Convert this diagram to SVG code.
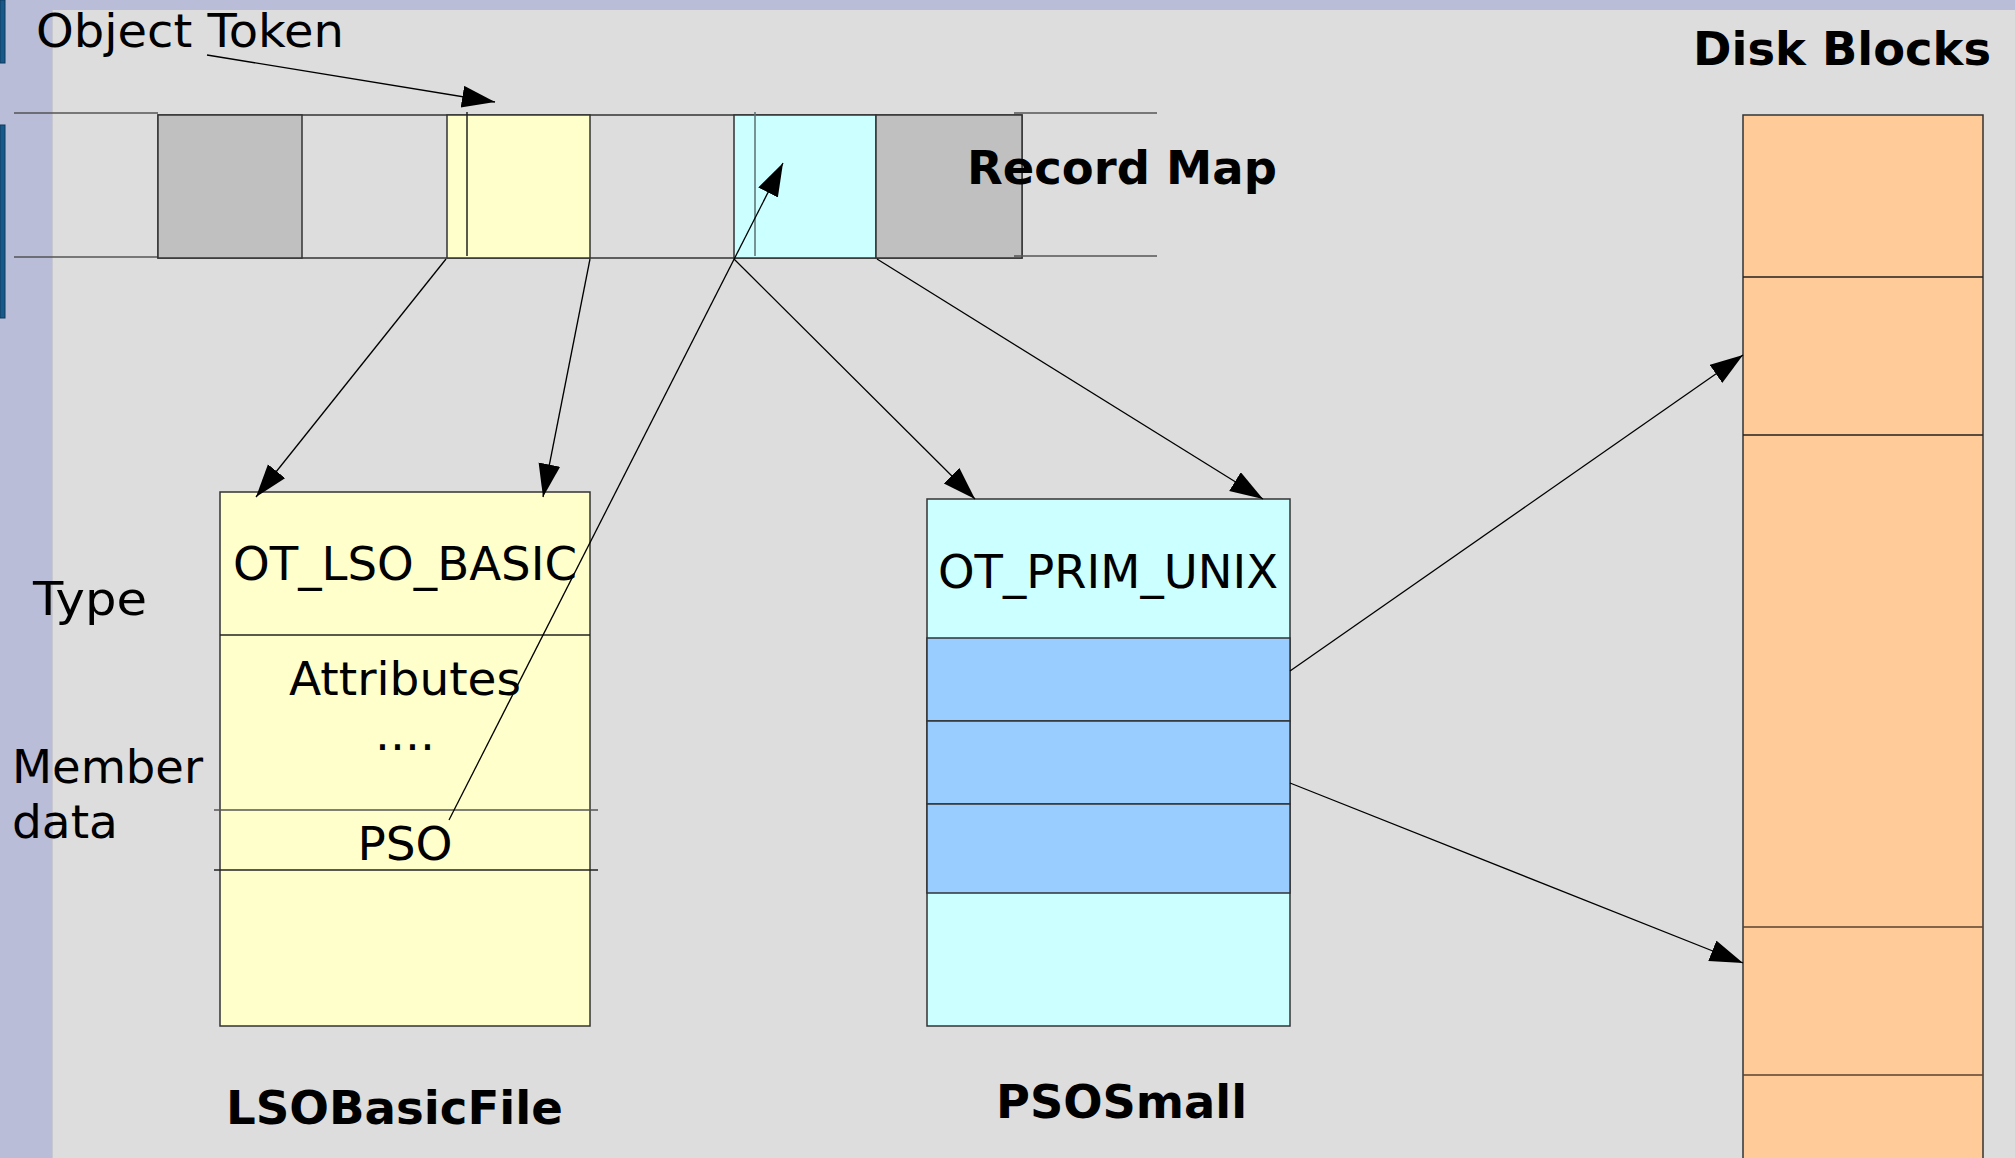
<svg xmlns="http://www.w3.org/2000/svg" width="2015" height="1158" viewBox="0 0 2015 1158">
<defs>
<marker id="ah" markerUnits="userSpaceOnUse" markerWidth="34" markerHeight="24" refX="33" refY="11" orient="auto">
<path d="M0,0 L33,11 L0,22 z" fill="#000"/>
</marker>
<style>
text{font-family:"DejaVu Sans","Liberation Sans",sans-serif;fill:#000}
.t{font-size:47px}
.b{font-size:47px;font-weight:bold}
.c{text-anchor:middle}
.box{stroke:#333;stroke-width:1.5}
.rl{stroke:#555;stroke-width:1.5;fill:none}
.con{stroke:#000;stroke-width:1.3;fill:none;marker-end:url(#ah)}
</style>
</defs>
<rect x="0" y="0" width="2015" height="1158" fill="#dddddd"/>
<rect x="0" y="0" width="2015" height="10" fill="#b9bdd8"/>
<rect x="0" y="0" width="52" height="1158" fill="#b9bdd8"/>
<line x1="52.5" y1="10" x2="52.5" y2="1158" stroke="#c8c8d0" stroke-width="1"/>
<rect x="0" y="0" width="5" height="63" fill="#165a8c" stroke="#0e3a5c" stroke-width="1"/>
<rect x="0" y="125" width="5" height="193" fill="#165a8c" stroke="#0e3a5c" stroke-width="1"/>

<g id="record-map">
<line class="rl" x1="14" y1="113" x2="158" y2="113"/>
<line class="rl" x1="14" y1="257" x2="158" y2="257"/>
<rect x="158" y="115" width="864" height="143" fill="#dddddd" class="box"/>
<rect x="158" y="115" width="144" height="143" fill="#c0c0c0" class="box"/>
<rect x="447" y="115" width="143" height="143" fill="#ffffcc" class="box"/>
<line x1="467" y1="112" x2="467" y2="256" stroke="#222" stroke-width="1.5"/>
<rect x="734" y="115" width="142" height="143" fill="#ccffff" class="box"/>
<line x1="755" y1="112" x2="755" y2="256" stroke="#5a7070" stroke-width="1.5"/>
<rect x="876" y="115" width="146" height="143" fill="#c0c0c0" class="box"/>
<line class="rl" x1="1014" y1="113" x2="1157" y2="113"/>
<line class="rl" x1="1014" y1="256" x2="1157" y2="256"/>
<text class="b" x="967" y="184" textLength="310" lengthAdjust="spacingAndGlyphs">Record Map</text>
</g>

<g id="object-token">
<text class="t" x="36" y="47" textLength="308" lengthAdjust="spacingAndGlyphs">Object Token</text>
</g>

<g id="lso-basic-file">
<rect x="220" y="492" width="370" height="534" fill="#ffffcc" class="box"/>
<line x1="220" y1="635" x2="590" y2="635" stroke="#222" stroke-width="1.3"/>
<line x1="214" y1="810" x2="598" y2="810" stroke="#555" stroke-width="1.5"/>
<line x1="214" y1="870" x2="598" y2="870" stroke="#222" stroke-width="1.3"/>
<text class="t c" x="405" y="580" textLength="344" lengthAdjust="spacingAndGlyphs">OT_LSO_BASIC</text>
<text class="t c" x="405" y="695">Attributes</text>
<text class="t c" x="405" y="750">....</text>
<text class="t c" x="405" y="860">PSO</text>
<text class="b" x="226" y="1124" textLength="337" lengthAdjust="spacingAndGlyphs">LSOBasicFile</text>
</g>

<g id="labels">
<text class="t" x="33" y="615" textLength="114" lengthAdjust="spacingAndGlyphs">Type</text>
<text class="t" x="12" y="783" textLength="191" lengthAdjust="spacingAndGlyphs">Member</text>
<text class="t" x="12" y="838">data</text>
</g>

<g id="pso-small">
<rect x="927" y="499" width="363" height="527" fill="#ccffff" class="box"/>
<rect x="927" y="638" width="363" height="83" fill="#99ccff" class="box"/>
<rect x="927" y="721" width="363" height="83" fill="#99ccff" class="box"/>
<rect x="927" y="804" width="363" height="89" fill="#99ccff" class="box"/>
<text class="t c" x="1108" y="588" textLength="340" lengthAdjust="spacingAndGlyphs">OT_PRIM_UNIX</text>
<text class="b" x="996" y="1118" textLength="251" lengthAdjust="spacingAndGlyphs">PSOSmall</text>
</g>

<g id="disk-blocks">
<rect x="1743" y="115" width="240" height="1060" fill="#ffcc99" class="box"/>
<line x1="1743" y1="277" x2="1983" y2="277" stroke="#222" stroke-width="1.5"/>
<line x1="1743" y1="435" x2="1983" y2="435" stroke="#222" stroke-width="1.5"/>
<line x1="1743" y1="927" x2="1983" y2="927" stroke="#5a4030" stroke-width="1.5"/>
<line x1="1743" y1="1075" x2="1983" y2="1075" stroke="#5a4030" stroke-width="1.5"/>
<text class="b" x="1693" y="65" textLength="298" lengthAdjust="spacingAndGlyphs">Disk Blocks</text>
</g>

<g id="connectors">
<line class="con" x1="207" y1="55" x2="495" y2="102"/>
<line class="con" x1="446" y1="259" x2="256" y2="497"/>
<line class="con" x1="590" y1="259" x2="543" y2="497"/>
<line class="con" x1="734" y1="259" x2="975" y2="499"/>
<line class="con" x1="877" y1="259" x2="1263" y2="499"/>
<line class="con" x1="449" y1="820" x2="783" y2="163"/>
<line class="con" x1="1290" y1="671" x2="1743" y2="355"/>
<line class="con" x1="1290" y1="783" x2="1743" y2="963"/>
</g>
</svg>
